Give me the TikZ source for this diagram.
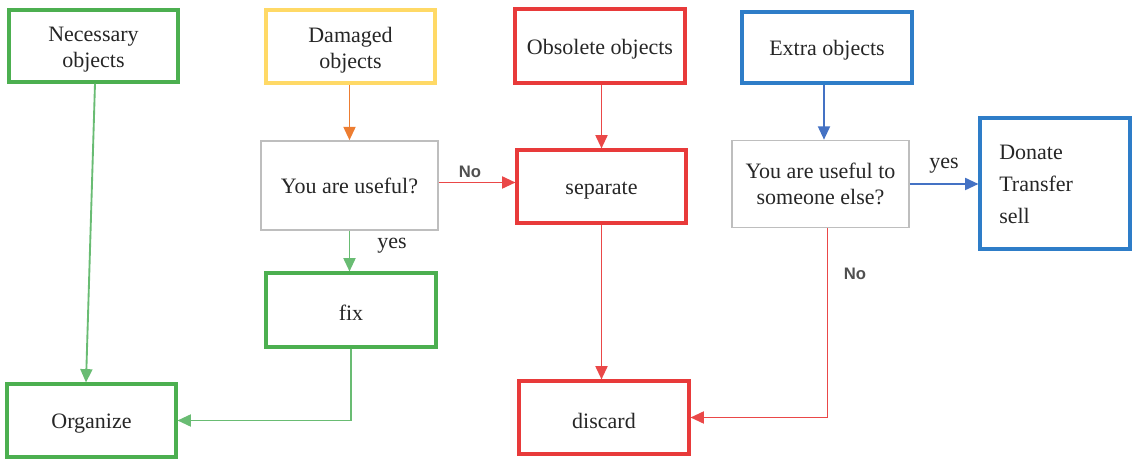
\documentclass[tikz,border=0pt]{standalone}
\usepackage{fontspec}
\setmainfont{Liberation Serif}
\newfontfamily\lblfont{Liberation Sans}
\usetikzlibrary{arrows.meta,calc}
\definecolor{gbox}{RGB}{76,175,80}
\definecolor{gline}{RGB}{105,188,115}
\definecolor{rbox}{RGB}{232,58,58}
\definecolor{rline}{RGB}{234,72,72}
\definecolor{ybox}{RGB}{255,217,102}
\definecolor{oline}{RGB}{237,125,49}
\definecolor{bbox}{RGB}{46,125,200}
\definecolor{bline}{RGB}{68,114,196}
\definecolor{graybox}{RGB}{190,190,190}
\definecolor{lblgray}{RGB}{80,80,80}
\tikzset{
  box/.style={draw, line width=2.3pt, inner sep=0pt, align=center,
    font=\fontsize{16.5}{19.5}\selectfont, text=black!85,
    execute at begin node={\rule{0pt}{16pt}}},
  qbox/.style={draw=graybox, line width=1.2pt, inner sep=0pt, align=center,
    font=\fontsize{16.5}{19.5}\selectfont, text=black!85},
  conn/.style={line width=1.4pt, -{Triangle[length=10pt,width=9pt]}},
  lbl/.style={font=\fontsize{16.5}{19.5}\selectfont, text=black!85},
  boxtext/.style={lbl, align=center, inner sep=0pt, yshift=-2.5pt},
  nolbl/.style={font=\lblfont\bfseries\fontsize{12.5}{14}\selectfont, text=lblgray}
}
\begin{document}
\begin{tikzpicture}[x=0.75pt,y=-0.75pt]
\useasboundingbox (0,0) rectangle (1132,459);
% boxes
\node[box, draw=gbox, minimum width=169*0.75pt, minimum height=72*0.75pt,
  label={[boxtext]center:Necessary\\objects}] (nec) at (93.5,46) {};
\node[box, draw=ybox, minimum width=169*0.75pt, minimum height=73*0.75pt,
  label={[boxtext]center:Damaged\\objects}] (dam) at (350.5,46.5) {};
\node[box, draw=rbox, minimum width=170*0.75pt, minimum height=74*0.75pt] (obs) at (600,46) {Obsolete objects};
\node[box, draw=bbox, minimum width=170*0.75pt, minimum height=71*0.75pt] (ext) at (827,47.5) {Extra objects};
\node[qbox, minimum width=177*0.75pt, minimum height=89*0.75pt] (use1) at (349.5,185.5) {You are useful?};
\node[box, draw=rbox, minimum width=169*0.75pt, minimum height=73*0.75pt] (sep) at (601.5,186.5) {separate};
\node[qbox, minimum width=177*0.75pt, minimum height=87*0.75pt] (use2) at (820.5,184) {You are useful to\\someone else?};
\node[box, draw=bbox, minimum width=150*0.75pt, minimum height=131*0.75pt] (don) at (1055,183.5) {};
\node[lbl, anchor=north west, align=left, inner sep=0pt, font=\fontsize{16.5}{24}\selectfont] (dontext) at (999,145) {Donate\\Transfer\\sell};
\node[box, draw=gbox, minimum width=170*0.75pt, minimum height=74*0.75pt] (fix) at (351,310) {fix};
\node[box, draw=gbox, minimum width=169*0.75pt, minimum height=73*0.75pt] (org) at (91.5,420.5) {Organize};
\node[box, draw=rbox, minimum width=170*0.75pt, minimum height=73*0.75pt] (dis) at (604,417.5) {discard};
% connectors
\draw[conn, gline] ($(nec.south)+(1.5,0)$) -- ($(org.north)+(-5.5,0)$);
\draw[conn, oline] (dam.south -| use1.north) -- (use1.north);
\draw[conn, gline] (use1.south) -- (use1.south |- fix.north);
\draw[conn, gline] (fix.south) |- (org.east);
\coordinate (u1e) at ($(use1.east)+(0,-3)$);
\draw[conn, rline] (u1e) -- (u1e -| sep.west);
\draw[conn, rline] (obs.south -| sep.north) -- (sep.north);
\draw[conn, rline] (sep.south) -- (sep.south |- dis.north);
\coordinate (e2) at ($(use2.north)+(3.5,0)$);
\draw[conn, bline] (ext.south -| e2) -- (e2);
\draw[conn, bline] (use2.east) -- (use2.east -| don.west);
\draw[conn, rline] ($(use2.south)+(7,0)$) |- (dis.east);
% labels
\node[nolbl] (no1) at (470,172) {No};
\node[lbl] (yes1) at (392,246) {yes};
\node[lbl] (yes2) at (944,166) {yes};
\node[nolbl] (no2) at (855,274) {No};
\end{tikzpicture}
\end{document}
